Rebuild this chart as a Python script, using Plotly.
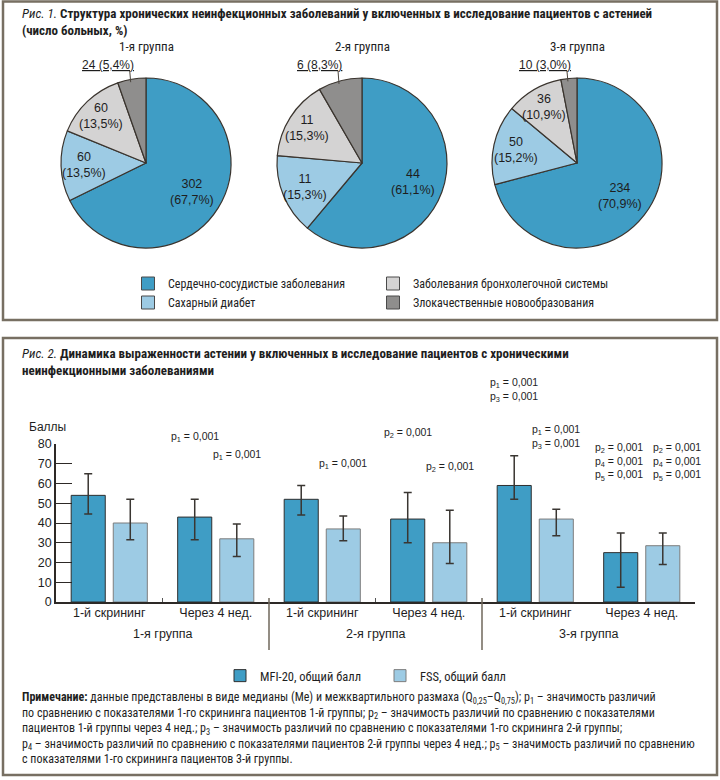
import math
import plotly.graph_objects as go

W, H = 720, 780

# ---------------- data: figure 1 (pies) ----------------
pie_groups = ["1-я группа", "2-я группа", "3-я группа"]
disease_labels = ["Сердечно-сосудистые заболевания", "Сахарный диабет",
                  "Заболевания бронхолегочной системы", "Злокачественные новообразования"]
group1_counts = [302, 60, 60, 24]
group1_pct = [67.7, 13.5, 13.5, 5.4]
group2_counts = [44, 11, 11, 6]
group2_pct = [61.1, 15.3, 15.3, 8.3]
group3_counts = [234, 50, 36, 10]
group3_pct = [70.9, 15.2, 10.9, 3.0]
legend_order = [0, 2, 1, 3]

# ---------------- data: figure 2 (bars) ----------------
visits = ["1-й скрининг", "Через 4 нед.", "1-й скрининг", "Через 4 нед.", "1-й скрининг", "Через 4 нед."]
bar_groups = ["1-я группа", "2-я группа", "3-я группа"]
mfi_median = [54, 43, 52, 42, 59, 25]
mfi_q25 = [44.5, 31.5, 44, 30, 52, 7.5]
mfi_q75 = [65, 52, 59, 55.5, 74, 35]
fss_median = [40, 32, 37, 30, 42, 28.5]
fss_q25 = [31.5, 23, 31, 19.5, 33.5, 19]
fss_q75 = [52, 39.5, 43.5, 46.5, 47, 35]
y_ticks = [0, 10, 20, 30, 40, 50, 60, 70, 80]
p_mfi = [[], ["1"], [], ["2"], ["1", "3"], ["2", "4", "5"]]
p_fss = [[], ["1"], ["1"], ["2"], ["1", "3"], ["2", "4", "5"]]
p_value = "0,001"

# ---------------- styling ----------------
FONT_C = "Liberation Sans Narrow, Roboto Condensed, DejaVu Sans Condensed, Arial Narrow, Liberation Sans, sans-serif"
FONT_A = "Liberation Sans, Arial, Helvetica, sans-serif"
TXT = "#1e1e1e"
FRAME = "#776f62"
pie_colors = ["#3f9dc5", "#9dcbe4", "#d4d3d3", "#8f8e8d"]
MFI_C, FSS_C = "#3f9dc5", "#9dcbe4"
AX = "#2d2926"


def px_x(p):
    return p / W


def px_y(p):
    return 1 - p / H


fig = go.Figure()

# ---------------- pies ----------------
pie_cx = [146, 362, 577]
pie_cy = 163
R = 85
label_r = [0.64, 0.73, 0.77]
shapes = []
annotations = []


def fmt(v):
    return f"{v:.1f}".replace(".", ",")


def note_ann(text, x, y, xanchor="center", yanchor="middle", font=None, **kw):
    d = dict(text=text, x=x, y=y, xref=kw.pop("xref", "paper"), yref=kw.pop("yref", "paper"),
             xanchor=xanchor, yanchor=yanchor, showarrow=False,
             font=font or dict(family=FONT_A, size=12.5, color=TXT))
    d.update(kw)
    annotations.append(d)


for k, (counts, pct) in enumerate([(group1_counts, group1_pct),
                                    (group2_counts, group2_pct),
                                    (group3_counts, group3_pct)]):
    cx = pie_cx[k]
    fig.add_trace(go.Pie(
        values=counts, labels=disease_labels, sort=False, direction="clockwise", rotation=0,
        marker=dict(colors=pie_colors, line=dict(color="#3a342e", width=1.2)),
        textinfo="none",
        domain=dict(x=[px_x(cx - R), px_x(cx + R)], y=[px_y(pie_cy + R), px_y(pie_cy - R)]),
        showlegend=False, hoverinfo="skip"))
    note_ann(pie_groups[k], px_x(cx), px_y(46), font=dict(family=FONT_C, size=13, color=TXT))
    total = sum(counts)
    cum = 0
    for j, (c, p) in enumerate(zip(counts, pct)):
        mid = (cum + c / 2) / total
        cum += c
        th = 2 * math.pi * mid
        if j < len(counts) - 1:
            rr = R * label_r[j]
            lx = cx + rr * math.sin(th)
            ly = pie_cy - rr * math.cos(th)
            note_ann(f"{c}<br>({fmt(p)}%)", px_x(lx), px_y(ly))
        else:
            ex = cx + R * math.sin(th)
            ey = pie_cy - R * math.cos(th)
            shapes.append(dict(type="line", xref="paper", yref="paper",
                               x0=px_x(ex - 2), y0=px_y(70.5), x1=px_x(ex - 1), y1=px_y(ey + 3),
                               line=dict(color="#4a443d", width=1)))
            note_ann(f"<u>{c} ({fmt(p)}%)</u>", px_x(ex + 4), px_y(65), xanchor="right",
                     font=dict(family=FONT_A, size=12, color=TXT))

# pie legend (dummy markers)
for i in legend_order:
    fig.add_trace(go.Scatter(x=[None], y=[None], mode="markers", name=disease_labels[i],
                             marker=dict(symbol="square", size=13, color=pie_colors[i],
                                         line=dict(color="#4a4a4a", width=1)),
                             legend="legend", showlegend=True, hoverinfo="skip"))

# ---------------- bars ----------------
xs = list(range(len(visits)))
fig.add_trace(go.Bar(
    x=xs, y=mfi_median, name="MFI-20, общий балл", legend="legend2",
    marker=dict(color=MFI_C, line=dict(color="#2f2f2f", width=1)),
    error_y=dict(type="data", symmetric=False,
                 array=[q - m for q, m in zip(mfi_q75, mfi_median)],
                 arrayminus=[m - q for q, m in zip(mfi_q25, mfi_median)],
                 color="#3a3632", thickness=1.5, width=4),
    hoverinfo="skip"))
fig.add_trace(go.Bar(
    x=xs, y=fss_median, name="FSS, общий балл", legend="legend2",
    marker=dict(color=FSS_C, line=dict(color="#7d7d7d", width=1)),
    error_y=dict(type="data", symmetric=False,
                 array=[q - m for q, m in zip(fss_q75, fss_median)],
                 arrayminus=[m - q for q, m in zip(fss_q25, fss_median)],
                 color="#3a3632", thickness=1.5, width=4),
    hoverinfo="skip"))

BARGAP = 0.21
off = (1 - BARGAP) / 4

mfi_py = [None, 437, None, 433, 390, 462]
fss_py = [None, 455, 464, 467, 437, 462]
mfi_shift = [0, 0, 0, 0, 0, -2]
fss_shift = [0, 0, 0, 0, 0, 14]


def ptext(lst):
    return "<br>".join(f"p<sub>{n}</sub> = {p_value}" for n in lst)


PFONT = dict(family=FONT_A, size=10.5, color=TXT)
for i in xs:
    if p_mfi[i]:
        note_ann(ptext(p_mfi[i]), i - off, px_y(mfi_py[i]), xref="x", align="left",
                 xshift=mfi_shift[i], font=PFONT)
    if p_fss[i]:
        note_ann(ptext(p_fss[i]), i + off, px_y(fss_py[i]), xref="x", align="left",
                 xshift=fss_shift[i], font=PFONT)

for g, name in enumerate(bar_groups):
    note_ann(name, 2 * g + 0.5, px_y(634), xref="x")
for xd in [1.5, 3.5]:
    shapes.append(dict(type="line", xref="x", yref="paper", x0=xd, x1=xd,
                       y0=px_y(598), y1=px_y(650), line=dict(color="#6f675b", width=1.5)))

note_ann("Баллы", px_x(27), px_y(427), xanchor="left", font=dict(family=FONT_A, size=12, color=TXT))

note_ann("<i>Рис. 1.</i> <b>Структура хронических неинфекционных заболеваний у включенных в исследование пациентов с астенией<br>(число больных, %)</b>",
         px_x(20), px_y(4), xanchor="left", yanchor="top", align="left",
         font=dict(family=FONT_C, size=13, color=TXT))
note_ann("<i>Рис. 2.</i> <b>Динамика выраженности астении у включенных в исследование пациентов с хроническими<br>неинфекционными заболеваниями</b>",
         px_x(20), px_y(344), xanchor="left", yanchor="top", align="left",
         font=dict(family=FONT_C, size=13, color=TXT))
note = ("<b>Примечание:</b> данные представлены в виде медианы (Me) и межквартильного размаха "
        "(Q<sub>0,25</sub>–Q<sub>0,75</sub>); p<sub>1</sub> – значимость различий<br>"
        "по сравнению с показателями 1-го скрининга пациентов 1-й группы; p<sub>2</sub> – значимость различий по сравнению с показателями<br>"
        "пациентов 1-й группы через 4 нед.; p<sub>3</sub> – значимость различий по сравнению с показателями 1-го скрининга 2-й группы;<br>"
        "p<sub>4</sub> – значимость различий по сравнению с показателями пациентов 2-й группы через 4 нед.; p<sub>5</sub> – значимость различий по сравнению<br>"
        "с показателями 1-го скрининга пациентов 3-й группы.")
note_ann(note, px_x(20), px_y(688), xanchor="left", yanchor="top", align="left",
         font=dict(family=FONT_C, size=12, color=TXT))

shapes.append(dict(type="rect", xref="paper", yref="paper", x0=px_x(3), x1=px_x(717),
                   y0=px_y(320), y1=px_y(1.5), line=dict(color=FRAME, width=2.5)))
shapes.append(dict(type="rect", xref="paper", yref="paper", x0=px_x(3), x1=px_x(717),
                   y0=px_y(775), y1=px_y(338), line=dict(color=FRAME, width=2.5)))

fig.update_layout(
    width=W, height=H, margin=dict(l=0, r=0, t=0, b=0, autoexpand=False),
    paper_bgcolor="white", plot_bgcolor="white",
    barmode="group", bargap=BARGAP, bargroupgap=0.19,
    font=dict(family=FONT_A, color=TXT),
    xaxis=dict(domain=[px_x(56), px_x(695)], range=[-0.5, 5.5], tickvals=xs, ticktext=visits,
               ticks="", showline=True, linecolor=AX, linewidth=1.5, showgrid=False, zeroline=False,
               automargin=False, ticklabelstandoff=-2,
               tickfont=dict(family=FONT_A, size=12.5, color=TXT),
               minor=dict(tickvals=[0.5, 2.5], ticks="inside", ticklen=4, tickcolor="#555", tickwidth=1),
               fixedrange=True),
    yaxis=dict(domain=[px_y(602), px_y(444)], range=[0, 80], tickvals=y_ticks, ticks="inside",
               ticklen=16, tickcolor=AX, tickwidth=1.2, showline=True, linecolor=AX, linewidth=1.5,
               showgrid=False, zeroline=False, automargin=False,
               tickfont=dict(family=FONT_A, size=12.5, color=TXT), fixedrange=True),
    legend=dict(orientation="h", x=px_x(128), xanchor="left", y=px_y(269), yanchor="top",
                entrywidth=200, entrywidthmode="pixels", font=dict(family=FONT_C, size=12, color=TXT),
                bgcolor="rgba(0,0,0,0)", tracegroupgap=0),
    legend2=dict(orientation="h", x=px_x(220), xanchor="left", y=px_y(661), yanchor="top",
                 entrywidth=115, entrywidthmode="pixels",
                 font=dict(family=FONT_C, size=12.5, color=TXT), bgcolor="rgba(0,0,0,0)"),
    shapes=shapes, annotations=annotations,
)

fig.write_html("out.html", config={"displayModeBar": False},
               post_script="document.body.style.margin='0px';")
